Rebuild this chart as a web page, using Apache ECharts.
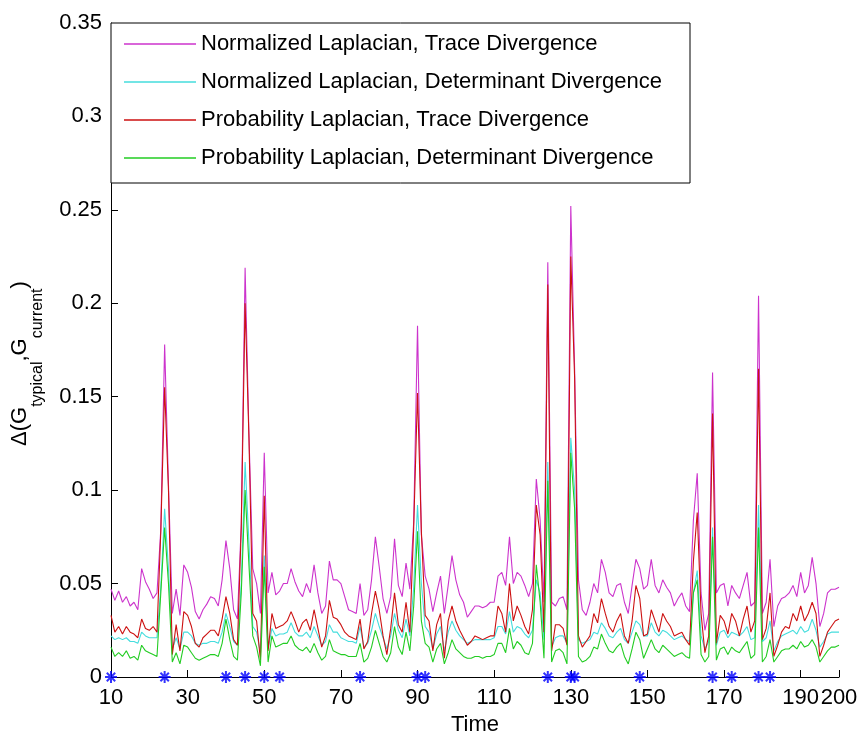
<!DOCTYPE html>
<html>
<head>
<meta charset="utf-8">
<script src="https://cdn.jsdelivr.net/npm/echarts@6/dist/echarts.min.js"></script>
<style>
html,body{margin:0;padding:0;background:#fff;}
#chart{width:857px;height:740px;}
</style>
</head>
<body>
<div id="chart"></div>
<script>
// Time axis: one sample per time step from 10 to 200
const timeStart = 10;
const timeEnd = 200;
const xTicks = [10, 30, 50, 70, 90, 110, 130, 150, 170, 190, 200];
const yTicks = [0, 0.05, 0.1, 0.15, 0.2, 0.25, 0.3, 0.35];

const seriesNames = [
  'Normalized Laplacian, Trace Divergence',
  'Normalized Laplacian, Determinant Divergence',
  'Probability Laplacian, Trace Divergence',
  'Probability Laplacian, Determinant Divergence'
];

// y-axis title pieces: [text, isSubscript]
const yTitleParts = [['Δ(G', false], ['typical', true], [',G', false], ['current', true], [')', false]];

const normTrace = [
  .047,.041,.046,.040,.043,.038,.040,.036,.058,.051,
  .047,.042,.045,.079,.178,.103,.034,.047,.033,.060,
  .056,.048,.035,.031,.036,.039,.043,.042,.038,.052,
  .073,.058,.036,.031,.082,.219,.130,.058,.050,.034,
  .120,.045,.056,.044,.046,.050,.050,.058,.051,.046,
  .043,.050,.045,.060,.045,.034,.038,.062,.052,.052,
  .050,.043,.036,.035,.034,.050,.033,.036,.052,.075,
  .059,.042,.034,.043,.074,.049,.043,.061,.047,.083,
  .188,.076,.054,.047,.035,.045,.054,.034,.049,.065,
  .052,.044,.040,.032,.035,.038,.038,.037,.038,.040,
  .040,.054,.056,.049,.075,.050,.056,.054,.049,.043,
  .050,.106,.084,.040,.222,.040,.038,.042,.043,.036,
  .252,.165,.052,.036,.033,.040,.050,.045,.063,.056,
  .045,.043,.049,.050,.040,.034,.049,.063,.058,.047,
  .049,.063,.049,.045,.052,.048,.045,.038,.042,.045,
  .038,.035,.084,.109,.045,.025,.034,.163,.045,.049,
  .050,.038,.049,.045,.042,.049,.056,.038,.040,.204,
  .034,.040,.063,.027,.038,.042,.043,.045,.049,.043,
  .056,.045,.049,.064,.050,.027,.034,.045,.047,.047,.048
];

const normDet = [
  .022,.020,.021,.020,.021,.019,.019,.018,.024,.022,
  .021,.021,.021,.048,.090,.058,.015,.021,.015,.024,
  .024,.022,.018,.017,.018,.018,.019,.019,.018,.024,
  .034,.027,.019,.017,.050,.115,.072,.027,.024,.013,
  .065,.015,.026,.022,.023,.023,.024,.029,.024,.022,
  .022,.024,.021,.027,.022,.017,.019,.028,.024,.024,
  .021,.020,.019,.019,.018,.027,.016,.018,.025,.034,
  .027,.021,.015,.022,.034,.025,.021,.031,.022,.048,
  .092,.050,.027,.024,.015,.023,.027,.014,.024,.030,
  .025,.022,.020,.018,.019,.020,.020,.020,.020,.020,
  .021,.027,.027,.023,.035,.024,.027,.026,.023,.021,
  .025,.052,.045,.020,.115,.016,.021,.022,.022,.018,
  .128,.100,.020,.018,.019,.020,.024,.023,.029,.026,
  .022,.021,.024,.026,.020,.018,.024,.030,.028,.022,
  .022,.029,.024,.022,.025,.024,.022,.020,.021,.022,
  .020,.019,.045,.057,.022,.015,.019,.080,.017,.024,
  .025,.021,.024,.023,.022,.024,.027,.020,.021,.092,
  .019,.021,.030,.014,.019,.022,.023,.024,.025,.023,
  .027,.024,.025,.031,.025,.016,.019,.023,.024,.024,.024
];

const probTrace = [
  .033,.024,.027,.023,.027,.024,.023,.021,.031,.026,
  .025,.027,.024,.078,.155,.100,.012,.028,.014,.035,
  .033,.027,.018,.016,.021,.023,.025,.025,.022,.031,
  .043,.034,.020,.017,.080,.200,.128,.034,.030,.009,
  .097,.014,.034,.026,.027,.028,.030,.035,.030,.024,
  .029,.031,.025,.036,.026,.016,.022,.041,.032,.031,
  .028,.024,.022,.021,.020,.031,.015,.019,.034,.046,
  .036,.022,.012,.026,.045,.028,.024,.040,.024,.080,
  .152,.078,.033,.030,.014,.028,.034,.010,.030,.038,
  .030,.025,.021,.017,.019,.022,.021,.020,.021,.022,
  .022,.038,.034,.024,.050,.030,.038,.033,.027,.023,
  .036,.092,.076,.024,.210,.014,.028,.028,.026,.017,
  .225,.160,.022,.016,.019,.022,.034,.029,.042,.034,
  .027,.024,.030,.034,.022,.018,.030,.049,.042,.022,
  .023,.036,.030,.024,.034,.030,.027,.022,.023,.024,
  .020,.017,.062,.088,.034,.013,.022,.141,.018,.033,
  .030,.023,.034,.030,.022,.031,.038,.024,.030,.165,
  .020,.026,.045,.011,.017,.024,.027,.026,.034,.030,
  .038,.030,.034,.040,.034,.011,.017,.024,.027,.030,.031
];

const probDet = [
  .016,.011,.013,.011,.014,.010,.011,.009,.017,.014,
  .013,.012,.011,.045,.080,.050,.008,.013,.007,.017,
  .016,.013,.010,.009,.010,.011,.012,.012,.011,.018,
  .031,.020,.011,.009,.045,.100,.060,.022,.016,.006,
  .059,.008,.022,.016,.017,.018,.018,.022,.017,.015,
  .014,.016,.013,.018,.013,.009,.011,.020,.014,.013,
  .012,.012,.011,.011,.011,.018,.008,.010,.016,.025,
  .018,.011,.008,.013,.027,.016,.012,.024,.014,.038,
  .078,.030,.018,.016,.008,.015,.018,.007,.013,.020,
  .015,.013,.011,.010,.010,.011,.011,.010,.011,.011,
  .012,.018,.018,.013,.026,.015,.019,.017,.013,.012,
  .018,.060,.040,.010,.105,.008,.014,.015,.013,.007,
  .120,.090,.011,.008,.009,.011,.016,.015,.023,.018,
  .014,.013,.016,.018,.011,.007,.015,.024,.020,.010,
  .015,.020,.015,.013,.017,.015,.013,.011,.012,.013,
  .011,.010,.045,.052,.012,.008,.011,.075,.009,.015,
  .016,.012,.016,.014,.013,.016,.019,.010,.012,.080,
  .008,.011,.020,.008,.011,.014,.015,.015,.017,.015,
  .019,.016,.017,.020,.016,.008,.011,.014,.016,.016,.017
];

// detected change times (blue stars on the time axis)
const starTimes = [10, 24, 40, 45, 50, 54, 75, 90, 92, 124, 130, 131, 148, 167, 172, 179, 182];

const colors = ['#cc33cc', '#44dddd', '#cc1111', '#22cc22'];
const FONT = '"Liberation Sans", Arial, Helvetica, sans-serif';
const MAIN_SIZE = 22, SUB_SIZE = 16;

function pairs(vals) {
  return vals.map((v, i) => [timeStart + i, v]);
}

// build the rotated y title from measured pieces
function buildYTitle() {
  const ctx = document.createElement('canvas').getContext('2d');
  const els = [];
  let y = 446;            // bottom end of the title
  const mainX = 20, subX = 38;
  yTitleParts.forEach(([txt, sub]) => {
    const size = sub ? SUB_SIZE : MAIN_SIZE;
    ctx.font = size + 'px ' + FONT;
    const w = ctx.measureText(txt).width;
    els.push({
      type: 'text',
      x: sub ? subX : mainX,
      y: y,
      rotation: Math.PI / 2,
      style: {text: txt, fill: '#000', font: size + 'px ' + FONT, align: 'left', verticalAlign: 'middle'}
    });
    y -= w;
  });
  return els;
}

const lineData = [normTrace, normDet, probTrace, probDet];

const chart = echarts.init(document.getElementById('chart'), null, {renderer: 'canvas'});

const series = lineData.map((vals, k) => ({
  name: seriesNames[k],
  type: 'line',
  data: pairs(vals),
  showSymbol: false,
  symbol: 'none',
  lineStyle: {width: 1.1, color: colors[k]},
  itemStyle: {color: colors[k]},
  animation: false,
  z: 2 + k
}));

series.push({
  name: 'stars',
  type: 'scatter',
  data: starTimes.map(t => [t, 0]),
  symbol: 'path://M0,-5L0,5M-5,0L5,0M-3.5,-3.5L3.5,3.5M-3.5,3.5L3.5,-3.5',
  symbolSize: 12,
  itemStyle: {color: 'rgba(0,0,0,0)', borderColor: '#0000ff', borderWidth: 2},
  clip: false,
  z: 10,
  animation: false
});

chart.setOption({
  backgroundColor: '#fff',
  animation: false,
  grid: {left: 111, right: 18, top: 23, bottom: 63, outerBoundsMode: 'none', containLabel: false},
  xAxis: {
    type: 'value',
    min: timeStart,
    max: timeEnd,
    axisLine: {show: true, onZero: false, lineStyle: {color: '#000', width: 1}},
    axisTick: {show: true, inside: true, length: 7, lineStyle: {color: '#000'}, customValues: xTicks},
    axisLabel: {show: true, customValues: xTicks, color: '#000', fontFamily: FONT, fontSize: 22, margin: 10,
      formatter: v => String(v)},
    splitLine: {show: false}
  },
  yAxis: {
    type: 'value',
    min: 0,
    max: 0.35,
    interval: 0.05,
    axisLine: {show: true, lineStyle: {color: '#000', width: 1}},
    axisTick: {show: true, inside: true, length: 7, lineStyle: {color: '#000'}},
    axisLabel: {show: true, color: '#000', fontFamily: FONT, fontSize: 22, margin: 9,
      formatter: v => String(parseFloat(v.toFixed(2)))},
    splitLine: {show: false}
  },
  legend: {
    data: seriesNames,
    orient: 'vertical',
    left: 111,
    top: 23,
    padding: [10, 28, 14, 13],
    itemGap: 16,
    itemWidth: 72,
    itemHeight: 1.5,
    itemTextGap: 8,
    icon: 'rect',
    backgroundColor: '#fff',
    borderColor: '#000',
    borderWidth: 1,
    borderRadius: 0,
    selectedMode: false,
    textStyle: {color: '#000', fontFamily: FONT, fontSize: 22}
  },
  graphic: [
    {
      type: 'text',
      x: 475,
      y: 725,
      style: {text: 'Time', fill: '#000', font: '22px ' + FONT, align: 'center', verticalAlign: 'middle'}
    }
  ].concat(buildYTitle()),
  series: series
});
</script>
</body>
</html>
